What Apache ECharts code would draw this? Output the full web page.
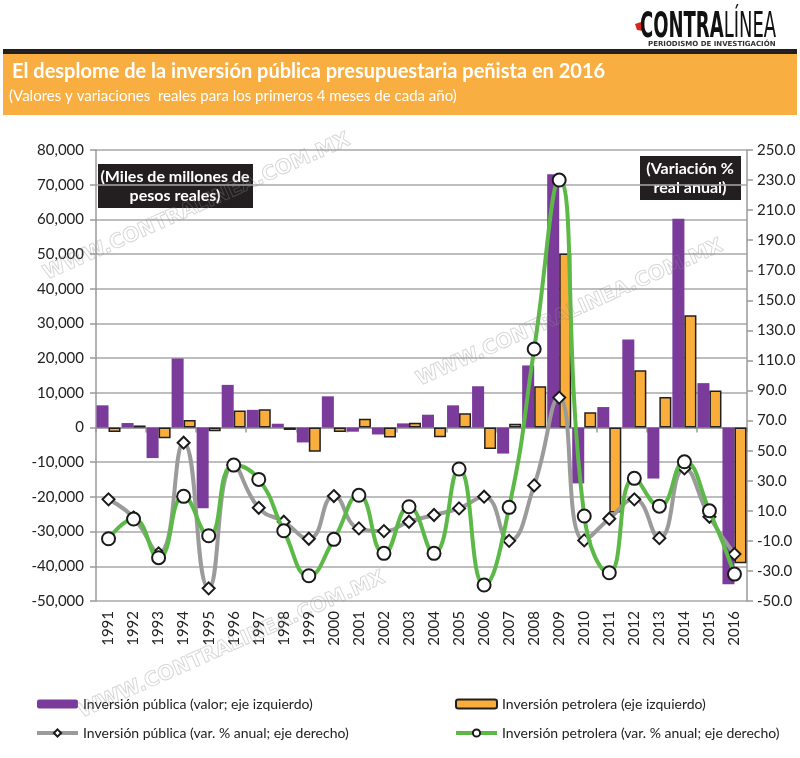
<!DOCTYPE html>
<html>
<head>
<meta charset="utf-8">
<script src="https://cdn.jsdelivr.net/npm/echarts@6/dist/echarts.min.js"></script>
<style>
  html, body { margin: 0; padding: 0; background: #fff; }
  #chart { width: 800px; height: 758px; }
</style>
</head>
<body>
<div id="chart"></div>
<script>
// años (primeros 4 meses de cada año)
var years = ['1991','1992','1993','1994','1995','1996','1997','1998','1999','2000','2001','2002','2003',
             '2004','2005','2006','2007','2008','2009','2010','2011','2012','2013','2014','2015','2016'];

// miles de millones de pesos reales (eje izquierdo)
var invPublica = [6400, 1300, -8800, 19900, -23300, 12300, 5100, 1100, -4300, 9000, -1200, -2000, 1200,
                  3700, 6400, 11900, -7500, 17900, 73000, -16100, 5900, 25400, -14700, 60200, 12800, -45200];
var invPetrolera = [-1300, 600, -3100, 2200, -1100, 4900, 5300, -700, -7000, -1300, 2500, -2900, 1400,
                    -2800, 4100, -6200, 1100, 11900, 50200, 4400, -24500, 16500, 8800, 32400, 10700, -39100];

// variación % real anual (eje derecho)
var varPublica = [17.6, 5.5, -18.3, 55.3, -41.6, 40.4, 12.0, 2.7, -8.6, 19.8, -1.7, -3.5, 2.7,
                  7.2, 11.6, 19.4, -10.0, 26.9, 85.3, -9.7, 4.7, 17.6, -8.2, 38.2, 6.0, -18.8];
var varPetrolera = [-8.6, 4.5, -21.2, 19.6, -6.6, 40.4, 30.9, -3.3, -33.2, -9.0, 20.3, -18.3, 12.7,
                    -18.3, 37.8, -39.4, 12.3, 117.6, 230.0, 6.5, -31.2, 31.6, 13.1, 42.6, 10.0, -32.1];

var FONT = 'Lato, "Open Sans", sans-serif';
var PURPLE = '#7b3b9b';
var ORANGE = '#f9ae3b';
var GREY = '#9b9b9b';
var GREEN = '#5cb947';

var chart = echarts.init(document.getElementById('chart'));

function watermark(x, y) {
  return {
    type: 'text', x: x, y: y, rotation: 0.42, z: 100, silent: true,
    style: {
      text: 'WWW.CONTRALINEA.COM.MX', font: 'bold 20px "DejaVu Sans", sans-serif',
      fill: 'rgba(255,255,255,0)', stroke: 'rgba(140,140,140,0.35)', lineWidth: 1,
      align: 'center', verticalAlign: 'middle'
    }
  };
}

var legendText = { fontSize: 14, color: '#222', fontFamily: FONT };

var option = {
  animation: false,
  textStyle: { fontFamily: FONT },
  grid: { left: 96, right: 53, top: 150, bottom: 157 },
  legend: [
    {
      data: ['Inversión pública (valor; eje izquierdo)', 'Inversión pública (var. % anual; eje derecho)'],
      left: 30, top: 692, orient: 'vertical', itemGap: 15, itemWidth: 41, itemHeight: 9,
      lineStyle: { width: 4 }, textStyle: legendText
    },
    {
      data: ['Inversión petrolera (eje izquierdo)', 'Inversión petrolera (var. % anual; eje derecho)'],
      left: 449, top: 692, orient: 'vertical', itemGap: 15, itemWidth: 41, itemHeight: 9,
      lineStyle: { width: 4 }, textStyle: legendText
    }
  ],
  xAxis: [
    {
      type: 'category', data: years, position: 'bottom',
      axisLine: { show: false, onZero: false },
      axisTick: { show: false },
      axisLabel: { rotate: 90, fontSize: 15, color: '#222', margin: 10, fontFamily: FONT }
    },
    {
      type: 'category', data: years, position: 'bottom',
      axisLine: { onZero: true, onZeroAxisIndex: 0, lineStyle: { color: '#9a9a9a', width: 1.5 } },
      axisTick: { show: true, length: 5, lineStyle: { color: '#9a9a9a', width: 1.5 } },
      axisLabel: { show: false }
    }
  ],
  yAxis: [
    {
      type: 'value', min: -50000, max: 80000, interval: 10000,
      axisLine: { show: true, lineStyle: { color: '#9a9a9a', width: 1.5 } },
      axisTick: { show: true, length: 6, lineStyle: { color: '#9a9a9a', width: 1.5 } },
      splitLine: { lineStyle: { color: '#a8a8a8', width: 1.5 } },
      axisLabel: {
        fontSize: 15, color: '#222', margin: 12, fontFamily: FONT,
        formatter: function (v) { return v.toLocaleString('en-US'); }
      }
    },
    {
      type: 'value', min: -50, max: 250, interval: 20, position: 'right',
      axisLine: { show: true, lineStyle: { color: '#9a9a9a', width: 1.5 } },
      axisTick: { show: true, length: 6, lineStyle: { color: '#9a9a9a', width: 1.5 } },
      splitLine: { show: false },
      axisLabel: {
        fontSize: 15, color: '#222', margin: 10, fontFamily: FONT,
        formatter: function (v) { return v.toFixed(1); }
      }
    }
  ],
  series: [
    {
      name: 'Inversión pública (valor; eje izquierdo)', type: 'bar', data: invPublica,
      barGap: '0%', barCategoryGap: '4%',
      itemStyle: { color: PURPLE }
    },
    {
      name: 'Inversión petrolera (eje izquierdo)', type: 'bar', data: invPetrolera,
      itemStyle: { color: ORANGE, borderColor: '#231f20', borderWidth: 1.5 }
    },
    {
      name: 'Inversión pública (var. % anual; eje derecho)', type: 'line', yAxisIndex: 1, data: varPublica,
      smooth: 0.5, symbol: 'diamond', symbolSize: 12, z: 3,
      lineStyle: { color: GREY, width: 4 },
      itemStyle: { color: '#fff', borderColor: '#1a1a1a', borderWidth: 2 }
    },
    {
      name: 'Inversión petrolera (var. % anual; eje derecho)', type: 'line', yAxisIndex: 1, data: varPetrolera,
      smooth: 0.5, symbol: 'circle', symbolSize: 13, z: 4,
      lineStyle: { color: GREEN, width: 4 },
      itemStyle: { color: '#fff', borderColor: '#1a1a1a', borderWidth: 2 }
    }
  ],
  graphic: [
    // encabezado
    { type: 'rect', shape: { x: 3, y: 49, width: 794, height: 5 }, style: { fill: '#231f20' } },
    { type: 'rect', shape: { x: 3, y: 54, width: 794, height: 61 }, style: { fill: '#f8ae40' } },
    {
      type: 'text', x: 12, y: 72,
      style: { text: 'El desplome de la inversión pública presupuestaria peñista en 2016',
               font: 'bold 20px ' + FONT, fill: '#fff', verticalAlign: 'middle' }
    },
    {
      type: 'text', x: 9, y: 96,
      style: { text: '(Valores y variaciones  reales para los primeros 4 meses de cada año)',
               font: '15px ' + FONT, fill: '#fff', verticalAlign: 'middle' }
    },
    // logo
    { type: 'polygon', shape: { points: [[635, 24], [644, 21], [644, 31], [637, 30]] }, style: { fill: '#d7261e' } },
    {
      type: 'text', x: 640, y: 10, scaleX: 0.5,
      style: {
        text: '{a|CONTRA}{b|LÍNEA}',
        rich: {
          a: { font: 'bold 36px "DejaVu Sans", sans-serif', fill: '#111' },
          b: { font: '36px "DejaVu Sans", sans-serif', fill: '#111' }
        }
      }
    },
    {
      type: 'text', x: 648, y: 41,
      style: { text: 'PERIODISMO DE INVESTIGACIÓN', font: 'bold 7px "DejaVu Sans", sans-serif', fill: '#333' }
    },
    // cajas de unidades
    { type: 'rect', shape: { x: 98, y: 164, width: 155, height: 44 }, style: { fill: '#231f20' } },
    {
      type: 'text', x: 175, y: 186,
      style: { text: '(Miles de millones de\npesos reales)', font: 'bold 16px ' + FONT, fill: '#fff',
               align: 'center', verticalAlign: 'middle', lineHeight: 19 }
    },
    { type: 'rect', shape: { x: 640, y: 156, width: 101, height: 44 }, style: { fill: '#231f20' } },
    {
      type: 'text', x: 690, y: 178,
      style: { text: '(Variación %\nreal anual)', font: 'bold 16px ' + FONT, fill: '#fff',
               align: 'center', verticalAlign: 'middle', lineHeight: 19 }
    },
    // marcas de agua
    watermark(197, 207),
    watermark(570, 313),
    watermark(232, 645)
  ]
};

chart.setOption(option);
</script>
</body>
</html>
